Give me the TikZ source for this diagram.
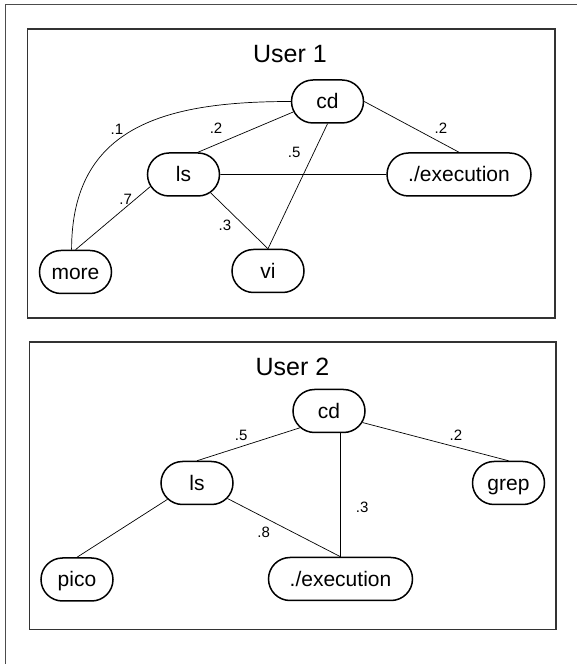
\documentclass[tikz,border=0pt]{standalone}
\usepackage{fontspec}
\setmainfont{Liberation Sans}
\usepackage{tikz}
\usetikzlibrary{positioning}
\usetikzlibrary{shapes.misc}

\begin{document}
\begin{tikzpicture}[x=1pt, y=1pt, on grid,
		cmd/.style = {draw, rounded rectangle, line width=1.5pt, minimum width=72pt, minimum height=43pt, inner xsep=0pt, text height=15pt, text depth=0pt, font=\fontsize{21}{25}\selectfont},
		wide/.style = {minimum width=144pt},
		lbl/.style = {font=\fontsize{15}{17}\selectfont, inner sep=2pt},
		frame/.style = {draw=black!80, line width=1.2pt}]
		\useasboundingbox (0,0) rectangle (577,664);
		\draw[black!70, line width=1pt] (5,0) |- (577,659);
		% user 1
		\draw[frame] (27.5,346) rectangle (555,635);
		\node[font=\fontsize{25}{29}\selectfont] (U1) at (290,609.5) {User 1};
		\node[cmd] (cd1) at (327.5,562.5) {cd};
		\node[cmd, below left = 73pt and 144pt of cd1] (ls1) {ls};
		\node[cmd, wide, below right = 73pt and 131.5pt of cd1] (ex1) {./execution};
		\node[cmd, below left = 170.5pt and 252pt of cd1] (more) {more};
		\node[cmd, below left = 169.5pt and 59.5pt of cd1] (vi) {vi};
		\draw[line width=.7pt] (cd1.197) edge node[lbl, pos=.81, above=9pt] {.2} (ls1.57)
			(cd1.east) edge node[lbl, pos=.81, above=7pt] {.2} (ex1.north)
			(cd1.south) edge node[lbl, pos=.23, left=11pt] {.5} (vi.north)
			(ls1) edge (ex1)
			(ls1.326) edge node[lbl, pos=.59, left=11pt] {.3} (vi.north)
			(ls1.200) edge node[lbl, pos=.2, left=1pt] {.7} (more.north)
			(cd1.west) edge[out=180, in=90, looseness=1.2] node[lbl, pos=.58, above=4pt] {.1} (more.100);
		% user 2
		\draw[frame] (29.5,34.5) rectangle (556,322);
		\node[font=\fontsize{25}{29}\selectfont] (U2) at (292.5,297.5) {User 2};
		\node[cmd] (cd2) at (329,253) {cd};
		\node[cmd, below left = 72pt and 132pt of cd2] (ls2) {ls};
		\node[cmd, below right = 72pt and 179.5pt of cd2] (grep) {grep};
		\node[cmd, below left = 96.5pt and 120pt of ls2] (pico) {pico};
		\node[cmd, wide, below right = 168pt and 11.5pt of cd2] (ex2) {./execution};
		\draw[line width=.7pt] (cd2.210) edge node[lbl, pos=.57, above=4pt] {.5} (ls2.north)
			(cd2.341) edge node[lbl, pos=.64, above=4pt] {.2} (grep.north)
			(ex2.north |- cd2.south) edge node[lbl, pos=.6, right=13pt] {.3} (ex2.north)
			(ls2.333) edge node[lbl, pos=.32, below=8pt] {.8} (ex2.north)
			(ls2.209) edge (pico.north);
	\end{tikzpicture}
\end{document}
